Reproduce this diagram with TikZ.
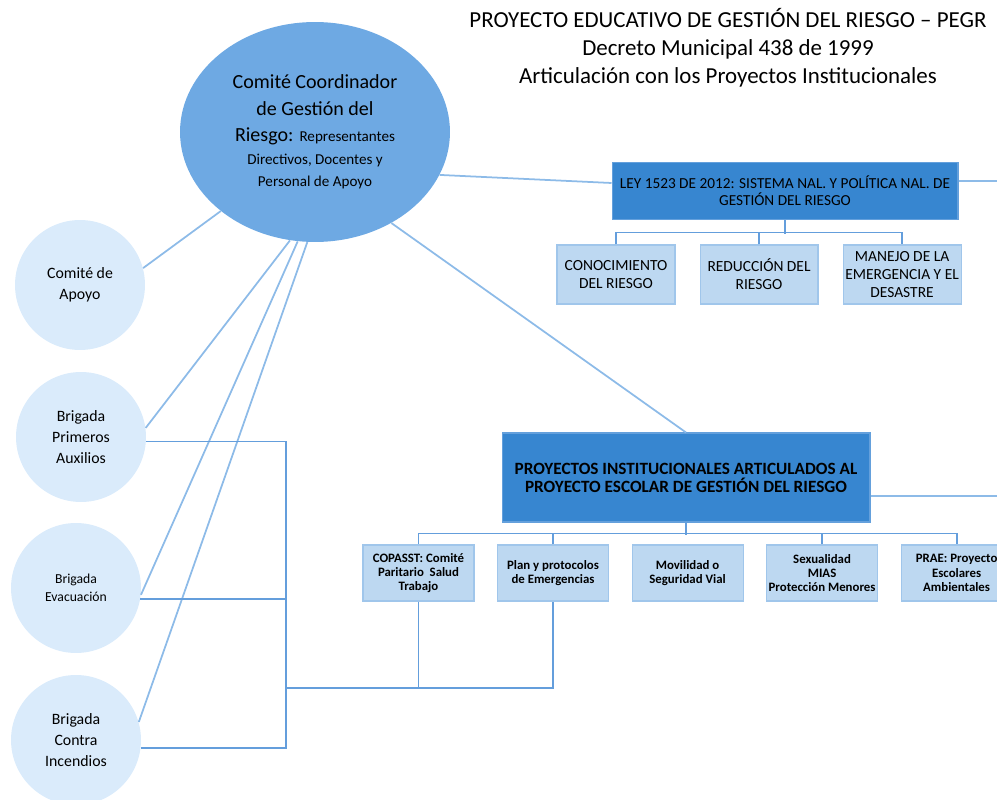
\documentclass[tikz,border=0pt]{standalone}
\usepackage{fontspec}
\setmainfont{Carlito}
\usepackage{tikz}
\usetikzlibrary{positioning,shapes.geometric}
\definecolor{elipseazul}{RGB}{110,169,227}
\definecolor{circuloazul}{RGB}{218,235,251}
\definecolor{cajaazul}{RGB}{55,134,208}
\definecolor{bordeazul}{RGB}{100,160,220}
\definecolor{subcaja}{RGB}{189,216,241}
\definecolor{subborde}{RGB}{160,198,235}
\definecolor{lineazul}{RGB}{141,187,232}
\definecolor{llaveazul}{RGB}{100,158,220}
\tikzset{comite node/.style={ellipse,fill=elipseazul,minimum width=5.4cm,minimum height=4.4cm,inner sep=0pt,align=center,font=\fontsize{11.4}{15}\selectfont},
  brigada node/.style={circle,fill=circuloazul,minimum size=2.6cm,inner sep=0pt,align=center,font=\fontsize{9}{11.9}\selectfont},
  ley node/.style={rectangle,fill=cajaazul,draw=bordeazul,line width=0.6pt,align=center,inner sep=0pt},
  sub node/.style={rectangle,fill=subcaja,draw=subborde,line width=0.6pt,align=center,inner sep=0pt},
  enlace/.style={draw=lineazul,line width=1pt},
  llave/.style={draw=llaveazul,line width=1pt},}

\begin{document}
\begin{tikzpicture}[x=0.02cm,y=-0.02cm]
       \useasboundingbox (0,0) rectangle (997,800);

       \node[align=center,font=\fontsize{13.05}{15.9}\selectfont] (titulo) at (728,48)
         {PROYECTO EDUCATIVO DE GESTIÓN DEL RIESGO -- PEGR\\Decreto Municipal 438 de 1999\\Articulación con los Proyectos Institucionales};

       \node[comite node] (comite) at (315,132)
         {Comité Coordinador\\de Gestión del\\Riesgo: {\fontsize{8.6}{11}\selectfont Representantes}\\[-2pt]
          {\fontsize{8.6}{11}\selectfont Directivos, Docentes y}\\[-2.5pt]{\fontsize{8.6}{11}\selectfont Personal de Apoyo}};

       \node[brigada node] (apoyo) at (80,285) {Comité de\\Apoyo};
       \node[brigada node] (primeros) at (81,437) {Brigada\\Primeros\\Auxilios};
       \node[brigada node,font=\fontsize{7.8}{10.2}\selectfont] (evac) at (76,588) {Brigada\\Evacuación};
       \node[brigada node] (contra) at (76,740) {Brigada\\Contra\\Incendios};

       \node[ley node,minimum width=6.92cm,minimum height=1.14cm,font=\fontsize{8.7}{9.8}\selectfont] (ley) at (785,191)
         {LEY 1523 DE 2012: SISTEMA NAL. Y POLÍTICA NAL. DE\\GESTIÓN DEL RIESGO};
       \node[sub node,minimum width=2.36cm,minimum height=1.18cm,font=\fontsize{8.8}{10.2}\selectfont] (con) at (616,274.5) {CONOCIMIENTO\\DEL RIESGO};
       \node[sub node,minimum width=2.36cm,minimum height=1.18cm,font=\fontsize{8.8}{10.2}\selectfont] (red) [right = 0.48cm of con] {REDUCCIÓN DEL\\RIESGO};
       \node[sub node,minimum width=2.36cm,minimum height=1.18cm,font=\fontsize{8.8}{10.2}\selectfont] (man) [right = 0.48cm of red] {MANEJO DE LA\\EMERGENCIA Y EL\\DESASTRE};

       \node[ley node,minimum width=7.36cm,minimum height=1.78cm,font=\bfseries\fontsize{9.8}{10.3}\selectfont] (proy) at (686,477.5)
         {PROYECTOS INSTITUCIONALES ARTICULADOS AL\\PROYECTO ESCOLAR DE GESTIÓN DEL RIESGO};
       \node[sub node,minimum width=2.22cm,minimum height=1.12cm,font=\bfseries\fontsize{7.3}{8.2}\selectfont] (copasst) at (418.5,573) {COPASST: Comité\\Paritario \ Salud\\Trabajo};
       \node[sub node,minimum width=2.22cm,minimum height=1.12cm,font=\bfseries\fontsize{7.3}{8.2}\selectfont] (plan) [right = 0.45cm of copasst] {Plan y protocolos\\de Emergencias};
       \node[sub node,minimum width=2.22cm,minimum height=1.12cm,font=\bfseries\fontsize{7.3}{8.2}\selectfont] (mov) [right = 0.45cm of plan] {Movilidad o\\Seguridad Vial};
       \node[sub node,minimum width=2.22cm,minimum height=1.12cm,font=\bfseries\fontsize{7.3}{8.2}\selectfont] (sex) [right = 0.45cm of mov] {Sexualidad\\MIAS\\Protección Menores};
       \node[sub node,minimum width=2.22cm,minimum height=1.12cm,font=\bfseries\fontsize{7.3}{8.2}\selectfont] (prae) [right = 0.45cm of sex] {PRAE: Proyecto\\Escolares\\Ambientales};

       % lineas desde el comite
       \draw[enlace] (comite.-140) -- (apoyo.15);
       \draw[enlace] (comite.-103) -- (primeros.8);
       \draw[enlace] (comite.-99) -- (evac.-6);
       \draw[enlace] (comite.-94) -- (contra.16);
       \draw[enlace] (comite.-19) -- ([yshift=0.16cm]ley.west);
       \draw[enlace] (comite.-50) -- (proy.north);

       \coordinate (leyfin) at (997,181);
       \coordinate (proyfin) at (997,496);
       \draw[enlace] (ley.east |- leyfin) -- (leyfin);
       \draw[enlace] (proy.east |- proyfin) -- (proyfin);

       % arboles
       \draw[llave] (ley.south) -- ++(0,14);
       \draw[llave] (con.north) -- ++(0,-12) -| (man.north);
       \draw[llave] (red.north) -- ++(0,-12);
       \draw[llave] (proy.south) -- ++(0,12);
       \draw[llave] (copasst.north) -- ++(0,-11) -| (prae.north);
       \draw[llave] (plan.north) -- ++(0,-11);
       \draw[llave] (sex.north) -- ++(0,-11);

       % llave de brigadas
       \coordinate (llave) at (286,688);
       \draw[llave] (primeros.-4) -| (llave) |- (contra.-7);
       \draw[llave] (evac.-10) -- (evac.-10 -| llave);
       \draw[llave] (llave) -| (plan.south);
       \draw[llave] (copasst.south) -- (copasst.south |- llave);
    \end{tikzpicture}
\end{document}
